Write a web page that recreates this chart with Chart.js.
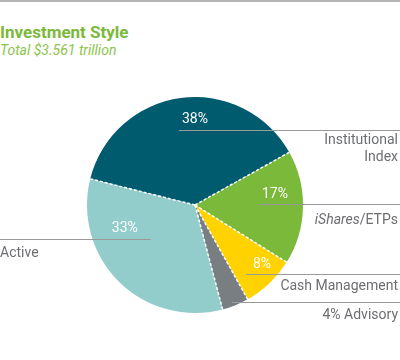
<!DOCTYPE html>
<html>
<head>
<meta charset="utf-8">
<script src="https://cdn.jsdelivr.net/npm/chart.js@4"></script>
<style>
  body { margin: 0; background: #fff; font-family: Roboto, "Liberation Sans", sans-serif; }
  #wrap { position: relative; width: 400px; height: 360px; border-top: 2px solid #b3b3b3; box-sizing: border-box; }
  #title { position: absolute; left: 0; top: 20px; font-size: 17px; font-weight: bold; color: #7ab93a; }
  #sub { position: absolute; left: 0; top: 40px; font-size: 14px; font-style: italic; color: #8cc34b; }
  canvas { position: absolute; left: 0; top: -2px; }
</style>
</head>
<body>
<div id="wrap">
  <div id="title">Investment Style</div>
  <div id="sub">Total $3.561 trillion</div>
  <canvas id="myChart" width="400" height="360"></canvas>
</div>
<script>
// slices in drawing order, clockwise from the Active / Institutional edge
const labels = ["Institutional Index", "iShares/ETPs", "Cash Management", "Advisory", "Active"];
const shares = [38, 17, 8, 4, 33];
const colors = ["#005b6e", "#7ab93a", "#ffd200", "#797e83", "#92cdcc"];

// where the % label and the leader line go, relative to the pie centre (in radii)
const pctPos = [[0, -0.79], [0.74, -0.10], [0.62, 0.55], null, [-0.65, 0.22]];

const sideLabels = function (ctx, i, y, area) {
    ctx.fillStyle = "#6d6e71";
    ctx.font = "14px Roboto, 'Liberation Sans', sans-serif";
    ctx.textBaseline = "middle";
    if (i === 0) {
        ctx.textAlign = "right";
        ctx.fillText("Institutional", 398, y + 10);
        ctx.fillText("Index", 398, y + 27);
    } else if (i === 1) {
        ctx.textAlign = "right";
        ctx.fillText("/ETPs", 398, y + 16);
        let w = ctx.measureText("/ETPs").width;
        ctx.font = "italic 14px Roboto, 'Liberation Sans', sans-serif";
        ctx.fillText("iShares", 398 - w, y + 16);
    } else if (i === 2) {
        ctx.textAlign = "right";
        ctx.fillText("Cash Management", 398, y + 12);
    } else if (i === 3) {
        ctx.textAlign = "right";
        ctx.fillText(shares[3] + "% Advisory", 398, y + 13);
    } else {
        ctx.textAlign = "left";
        ctx.fillText("Active", 0, y + 14);
    }
};

const pieLabels = {
    id: "pieLabels",
    afterDatasetsDraw(chart) {
        const ctx = chart.ctx;
        const arcs = chart.getDatasetMeta(0).data;
        ctx.save();
        // white dashed separators between slices
        ctx.strokeStyle = "#ffffff";
        ctx.lineWidth = 1.5;
        ctx.setLineDash([3, 2]);
        arcs.forEach(a => {
            ctx.beginPath();
            ctx.moveTo(a.x, a.y);
            ctx.lineTo(a.x + Math.cos(a.startAngle) * a.outerRadius, a.y + Math.sin(a.startAngle) * a.outerRadius);
            ctx.stroke();
        });
        ctx.setLineDash([]);
        arcs.forEach((a, i) => {
            const r = a.outerRadius;
            let lx, ly, x0, x1;
            if (pctPos[i]) {
                lx = a.x + pctPos[i][0] * r;
                ly = a.y + pctPos[i][1] * r;
                ctx.fillStyle = "#ffffff";
                ctx.font = "14px Roboto, 'Liberation Sans', sans-serif";
                ctx.textAlign = "center";
                ctx.textBaseline = "middle";
                ctx.fillText(shares[i] + "%", lx, ly);
                ly = Math.round(ly + 10) + 0.5;
                x0 = i === 4 ? 0 : lx - 16;
                x1 = i === 4 ? lx + 26 : 400;
            } else {
                // advisory: line just below the slice
                ly = Math.round(a.y + 0.90 * r) + 0.5;
                x0 = a.x + 0.34 * r;
                x1 = 400;
            }
            ctx.strokeStyle = "#9a9a9a";
            ctx.lineWidth = 1;
            ctx.beginPath();
            ctx.moveTo(x0, ly);
            ctx.lineTo(x1, ly);
            ctx.stroke();
            sideLabels(ctx, i, ly, chart.chartArea);
        });
        ctx.restore();
    }
};

new Chart(document.getElementById("myChart"), {
    type: "pie",
    data: {
        labels: labels,
        datasets: [{
            data: shares,
            backgroundColor: colors,
            borderWidth: 0
        }]
    },
    options: {
        responsive: false,
        animation: false,
        rotation: -76,
        layout: { padding: { left: 87, right: 97, top: 97, bottom: 47 } },
        plugins: {
            legend: { display: false },
            tooltip: { enabled: false }
        }
    },
    plugins: [pieLabels]
});
</script>
</body>
</html>
